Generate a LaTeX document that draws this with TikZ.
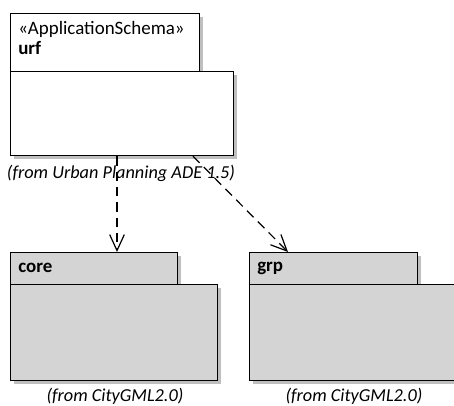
\documentclass[tikz,border=0pt]{standalone}
\usepackage{fontspec}
\setmainfont{Carlito}
\usetikzlibrary{arrows.meta,shadows,calc}

\tikzset{
  pkgtab/.style={draw, line width=0.9pt, anchor=north west, inner sep=0pt,
    drop shadow={shadow xshift=2.2pt, shadow yshift=-2.2pt, fill=black!25, opacity=1}},
  pkgbody/.style={pkgtab},
  grey/.style={fill=pkggrey},
  pkgname/.style={anchor=west, inner sep=0pt, font=\bfseries\fontsize{14.2}{15}\selectfont},
  fromlbl/.style={font=\itshape\fontsize{13.7}{15}\selectfont},
  import/.style={line width=0.9pt, dash pattern=on 7pt off 4.5pt,
    -{Straight Barb[length=12pt, width=11pt, line width=0.9pt]}}
}
\definecolor{pkggrey}{RGB}{212,212,212}

\begin{document}
\begin{tikzpicture}[x=0.75pt, y=-0.75pt]
  \useasboundingbox (0,0) rectangle (454,405);

  % urf package
  \node[pkgtab, fill=white, minimum width=141.75pt, minimum height=43.5pt] (urftab) at (10,13) {};
  \node[pkgbody, fill=white, minimum width=167.25pt, minimum height=63pt] (urfbody) at (10,71) {};
  \node[anchor=north west, align=left, inner sep=0pt, font=\fontsize{14.2}{15}\selectfont]
    (urfname) at (18,21) {«ApplicationSchema»\\\textbf{urf}};
  \node[fromlbl] (urffrom) at (121,173) {(from Urban Planning ADE 1.5)};

  % core package
  \node[pkgtab, grey, minimum width=125.25pt, minimum height=24pt] (coretab) at (10,252) {};
  \node[pkgbody, grey, minimum width=155.25pt, minimum height=72pt] (corebody) at (10,284) {};
  \node[pkgname] (corename) at (18,268) {core};
  \node[fromlbl] (corefrom) at (115,396) {(from CityGML2.0)};

  % grp package
  \node[pkgtab, grey, minimum width=126pt, minimum height=24pt] (grptab) at (249,252) {};
  \node[pkgbody, grey, minimum width=154.5pt, minimum height=72pt] (grpbody) at (249,284) {};
  \node[pkgname] (grpname) at (257,268) {grp};
  \node[fromlbl] (grpfrom) at (354,396) {(from CityGML2.0)};

  % dependencies
  \draw[import] ([xshift=80.25pt]urfbody.south west) -- ([xshift=80.25pt]coretab.north west);
  \draw[import] ([xshift=137.25pt]urfbody.south west) -- ([xshift=29.25pt]grptab.north west);
\end{tikzpicture}
\end{document}
